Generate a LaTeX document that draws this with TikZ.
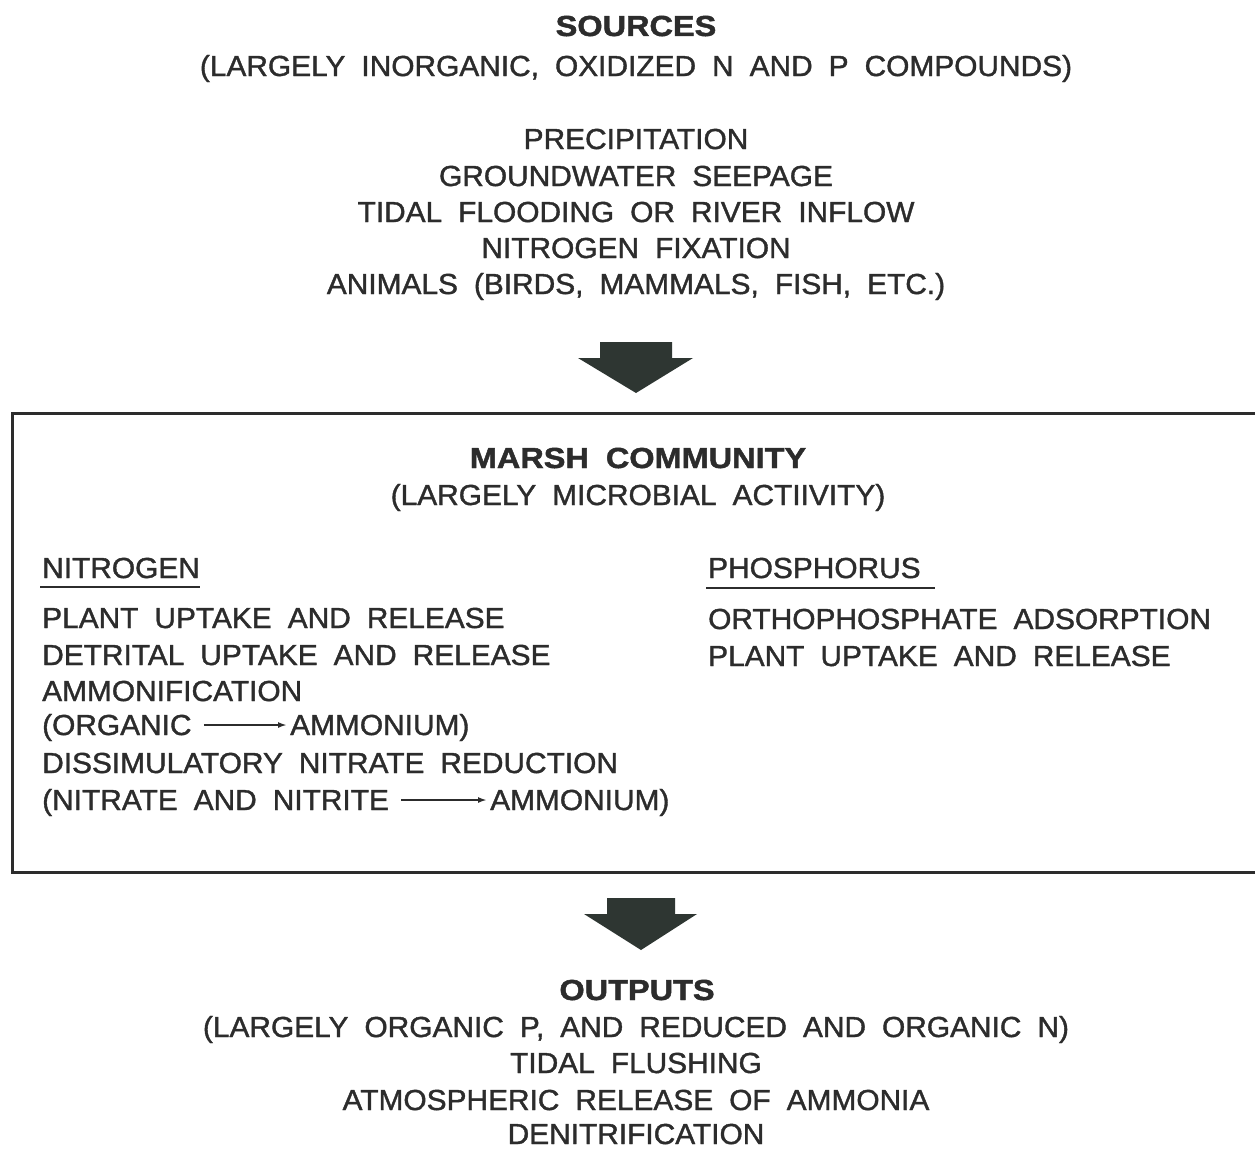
\documentclass[tikz,border=0pt]{standalone}
\usepackage{fontspec}
\setmainfont{Liberation Sans}
\newfontfamily\medf[FakeBold=1.3,FakeStretch=1.03]{Liberation Sans}
\newfontfamily\ttlf[FakeBold=1.6,FakeStretch=1.12]{Liberation Sans Bold}
\newcommand\mybodyfnt{\medf\fontsize{29}{34}\selectfont\spaceskip 16pt\relax}
\newcommand\myttlfnt{\ttlf\fontsize{29}{34}\selectfont\spaceskip 17pt\relax}
\usetikzlibrary{arrows.meta}
\definecolor{ink}{HTML}{2C2C2C}
\definecolor{arrowc}{HTML}{2E3632}
\begin{document}
\begin{tikzpicture}[x=1pt,y=-1pt,
 txt/.style={anchor=base, inner sep=0pt, text=ink, font=\mybodyfnt},
 ttl/.style={txt, font=\myttlfnt},
 lft/.style={txt, anchor=base west},
 blockarrow/.style={fill=arrowc, draw=none},
 frame/.style={draw=ink, line width=3pt},
 uline/.style={draw=ink, line width=2pt},
 thinarrow/.style={draw=ink, line width=1.8pt, -{Latex[length=9pt,width=6pt]}}]
\useasboundingbox[fill=white] (0,0) rectangle (1255,1148);

% Sources
\node[ttl] (src) at (636,36) {SOURCES};
\node[txt] (src2) at (636,76) {(LARGELY INORGANIC, OXIDIZED N AND P COMPOUNDS)};
\node[txt] (s1) at (636,149) {PRECIPITATION};
\node[txt] (s2) at (636,186) {GROUNDWATER SEEPAGE};
\node[txt] (s3) at (636,222) {TIDAL FLOODING OR RIVER INFLOW};
\node[txt] (s4) at (636,258) {NITROGEN FIXATION};
\node[txt] (s5) at (636,294) {ANIMALS (BIRDS, MAMMALS, FISH, ETC.)};

\fill[blockarrow] (600,342) -- (672,342) -- (672,358) -- (693,358) -- (636,393) -- (578,358) -- (600,358) -- cycle;

% Marsh community frame
\draw[frame] (1265,413) -- (12,413) -- (12,872) -- (1265,872);
\node[ttl] (mc) at (638,468) {MARSH COMMUNITY};
\node[txt] (mc2) at (638,505) {(LARGELY MICROBIAL ACTIIVITY)};

\node[lft] (nit) at (42,578) {NITROGEN};
\coordinate (nu1) at (40,587);
\coordinate (nu2) at (200,587);
\draw[uline] (nu1) -- (nu2);
\node[lft] (n1) at (42,628) {PLANT UPTAKE AND RELEASE};
\node[lft] (n2) at (42,665) {DETRITAL UPTAKE AND RELEASE};
\node[lft] (n3) at (42,701) {AMMONIFICATION};
\node[lft] (n4a) at (42,735) {(ORGANIC};
\node[lft] (n4b) at (290,735) {AMMONIUM)};
\draw[thinarrow] ([shift={(12,-10)}]n4a.base east) -- ([shift={(-3,-10)}]n4b.base west);
\node[lft] (n5) at (42,773) {DISSIMULATORY NITRATE REDUCTION};
\node[lft] (n6a) at (42,810) {(NITRATE AND NITRITE};
\node[lft] (n6b) at (490,810) {AMMONIUM)};
\draw[thinarrow] ([shift={(12,-10)}]n6a.base east) -- ([shift={(-3,-10)}]n6b.base west);

\node[lft] (pho) at (708,578) {PHOSPHORUS};
\coordinate (pu1) at (706,588);
\coordinate (pu2) at (935,588);
\draw[uline] (pu1) -- (pu2);
\node[lft] (p1) at (708,629) {ORTHOPHOSPHATE ADSORPTION};
\node[lft] (p2) at (708,666) {PLANT UPTAKE AND RELEASE};

\fill[blockarrow] (607,898) -- (675,898) -- (675,914) -- (697,914) -- (641,950) -- (584,914) -- (607,914) -- cycle;

% Outputs
\node[ttl] (out) at (637,1000) {OUTPUTS};
\node[txt] (out2) at (636,1037) {(LARGELY ORGANIC P, AND REDUCED AND ORGANIC N)};
\node[txt] (o1) at (636,1073) {TIDAL FLUSHING};
\node[txt] (o2) at (636,1110) {ATMOSPHERIC RELEASE OF AMMONIA};
\node[txt] (o3) at (636,1144) {DENITRIFICATION};
\end{tikzpicture}
\end{document}
